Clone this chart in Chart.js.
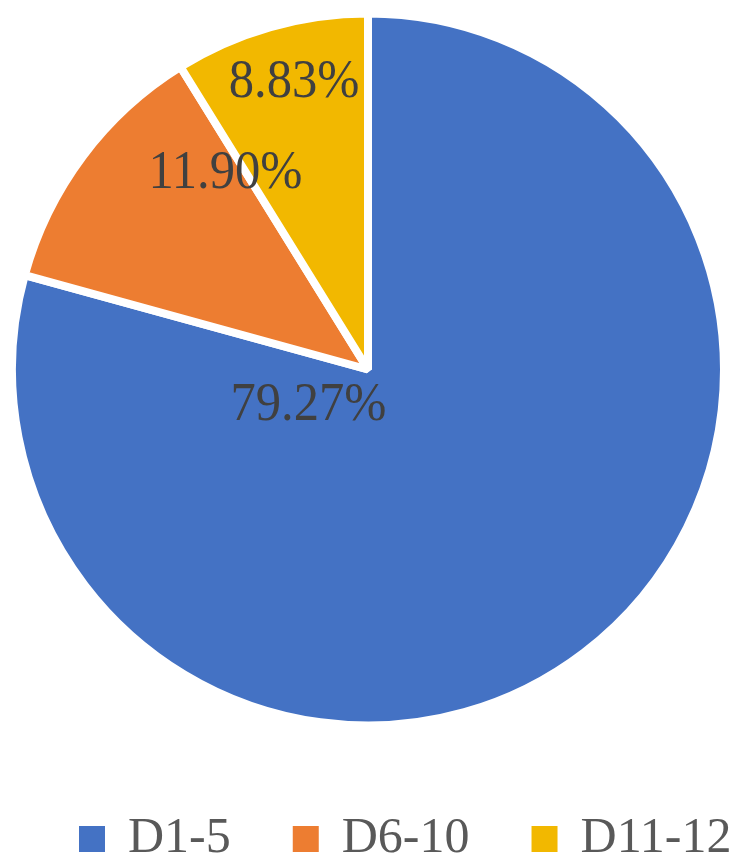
<!DOCTYPE html>
<html>
<head>
<meta charset="utf-8">
<script src="https://cdn.jsdelivr.net/npm/chart.js@4/dist/chart.umd.min.js"></script>
<style>
	html, body { margin: 0; padding: 0; background: #fff; }
	#wrap { width: 750px; height: 868px; }
</style>
</head>
<body>
<div id="wrap"><canvas id="myChart"></canvas></div>
<script>
const categories = ["D1-5", "D6-10", "D11-12"];
const shares = [79.27, 11.9, 8.83];
const valueLabels = ["79.27%", "11.90%", "8.83%"];
const sliceColors = ["#4472C4", "#ED7D31", "#F2B800"];

// where each label sits inside its slice: fraction along the arc, fraction of radius
const labelSpots = [
	{ t: 0.836, r: 0.196 },
	{ t: 0.9, r: 0.68 },
	{ t: 0.545, r: 0.831 },
];

const serif = "'Liberation Serif', 'Times New Roman', serif";

const sliceLabels = {
	id: "sliceLabels",
	afterDatasetsDraw: function (chart) {
		const ctx = chart.ctx;
		const arcs = chart.getDatasetMeta(0).data;
		arcs.forEach(function (arc, i) {
			const p = arc.getProps(["x", "y", "startAngle", "endAngle", "outerRadius"], true);
			const a = p.startAngle + labelSpots[i].t * (p.endAngle - p.startAngle);
			const r = labelSpots[i].r * p.outerRadius;
			ctx.save();
			ctx.translate(p.x + Math.cos(a) * r, p.y + Math.sin(a) * r);
			ctx.scale(0.92, 1);
			ctx.font = "55px " + serif;
			ctx.fillStyle = "#404040";
			ctx.textAlign = "center";
			ctx.textBaseline = "middle";
			ctx.fillText(valueLabels[i], 0, 0);
			ctx.restore();
		});
	},
};

// legend row under the pie, spaced wider than the built-in legend allows
const bottomLegend = {
	id: "bottomLegend",
	afterDraw: function (chart) {
		const ctx = chart.ctx;
		const box = 26;
		const gap = 23;
		const spacing = 62;
		const midY = chart.chartArea.bottom + 109;
		let x = 79;
		ctx.save();
		ctx.font = "50px " + serif;
		ctx.textBaseline = "middle";
		ctx.textAlign = "left";
		categories.forEach(function (name, i) {
			ctx.fillStyle = sliceColors[i];
			ctx.fillRect(x, midY - box / 2, box, box);
			x += box + gap;
			ctx.fillStyle = "#595959";
			ctx.fillText(name, x, midY);
			x += ctx.measureText(name).width + spacing;
		});
		ctx.restore();
	},
};

const ctx = document.getElementById("myChart").getContext("2d");
const myChart = new Chart(ctx, {
	type: "pie",
	data: {
		labels: categories,
		datasets: [
			{
				data: shares,
				backgroundColor: sliceColors,
				borderColor: "#ffffff",
				borderWidth: 8,
				hoverOffset: 0,
			},
		],
	},
	options: {
		responsive: true,
		maintainAspectRatio: false,
		animation: false,
		layout: { padding: { top: 9, left: 8, right: 22, bottom: 138 } },
		plugins: {
			tooltip: { enabled: false },
			legend: { display: false },
		},
	},
	plugins: [sliceLabels, bottomLegend],
});
</script>
</body>
</html>
